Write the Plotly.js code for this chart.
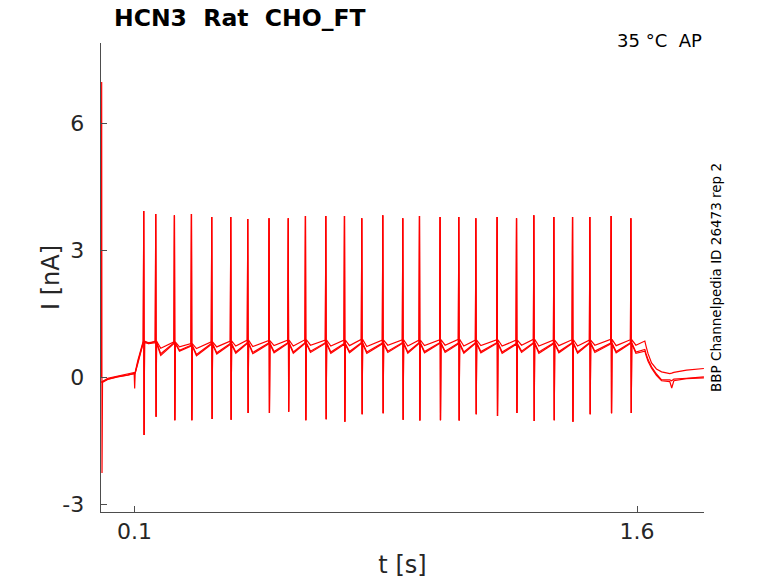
<!DOCTYPE html>
<html>
<head>
<meta charset="utf-8">
<script src="https://cdn.plot.ly/plotly-3.0.1.min.js"></script>
<style>html,body{margin:0;padding:0;background:#fff;}#chart{width:778px;height:583px;}</style>
</head>
<body>
<div id="chart"></div>
<script>
// ---- data ----
const spikeT = [0.1275,0.1633,0.2192,0.2700,0.3305,0.3873,0.4380,0.5016,0.5590,0.6103,0.6710,0.7268,0.7784,0.8411,0.9008,0.9507,1.0122,1.0680,1.1189,1.1824,1.2404,1.2920,1.3518,1.4076,1.4592,1.5228,1.5817];
const spikePeak = [3.93,3.86,3.83,3.86,3.79,3.79,3.74,3.76,3.76,3.81,3.81,3.81,3.76,3.83,3.76,3.81,3.79,3.79,3.76,3.79,3.76,3.83,3.79,3.79,3.79,3.81,3.76];
const spikeTrough = [-1.36,-0.93,-1.01,-1.01,-0.98,-1.00,-0.84,-0.84,-0.81,-1.01,-0.99,-1.05,-0.87,-0.85,-1.00,-1.02,-1.01,-1.02,-0.87,-0.91,-0.84,-1.03,-1.01,-1.05,-0.87,-0.85,-0.84];

// inter-spike minimum and pre-spike level for each repetition
const minA = [0.80,0.69,0.72,0.68,0.72,0.74,0.73,0.75,0.74,0.76,0.74,0.75,0.73,0.76,0.74,0.75,0.76,0.74,0.75,0.74,0.76,0.74,0.75,0.74,0.76,0.75,0.76];
const preA = [0.86,0.84,0.80,0.84,0.86,0.88,0.87,0.88,0.89,0.88,0.88,0.90,0.88,0.89,0.88,0.89,0.90,0.88,0.89,0.88,0.90,0.88,0.89,0.88,0.90,0.89,0.86];
const minB = [0.82,0.56,0.64,0.54,0.58,0.60,0.59,0.61,0.60,0.62,0.60,0.61,0.60,0.62,0.60,0.61,0.62,0.60,0.61,0.60,0.62,0.60,0.61,0.60,0.62,0.61,0.60];
const preB = [0.84,0.82,0.76,0.80,0.80,0.82,0.81,0.82,0.82,0.82,0.80,0.82,0.81,0.82,0.82,0.82,0.81,0.82,0.82,0.80,0.82,0.81,0.82,0.82,0.81,0.82,0.66];
const minC = [0.80,0.52,0.62,0.51,0.55,0.57,0.56,0.58,0.57,0.59,0.57,0.58,0.57,0.59,0.57,0.58,0.59,0.57,0.58,0.57,0.59,0.57,0.58,0.57,0.59,0.58,0.57];
const preC = [0.82,0.80,0.74,0.78,0.78,0.80,0.79,0.80,0.80,0.80,0.78,0.80,0.79,0.80,0.80,0.80,0.79,0.80,0.80,0.78,0.80,0.79,0.80,0.80,0.79,0.80,0.62];

// holding period before the step
const headT = [0.0010,0.0020,0.0030,0.0045,0.0200,0.0500,0.0800,0.0990,0.1005,0.1020,0.1100,0.1200,0.1262];
const headA = [0.00,6.98,-2.26,-0.10,-0.02,0.03,0.07,0.10,0.10,0.12,0.40,0.70,0.86];
const headB = [-0.10,-0.10,-0.10,-0.10,-0.04,0.02,0.06,0.09,-0.26,0.10,0.36,0.66,0.84];
const headC = [-0.12,-0.12,-0.12,-0.12,-0.05,0.01,0.05,0.08,0.08,0.10,0.33,0.62,0.82];

// after the step
const stepEndT = 1.6234;
const tailT = [1.6270,1.6330,1.6434,1.6580,1.6733,1.6980,1.7036,1.7100,1.7480,1.7997];
const tailA = [0.74,0.56,0.34,0.20,0.13,0.09,0.10,0.12,0.17,0.21];
const tailB = [0.56,0.42,0.25,0.08,-0.06,-0.06,-0.08,-0.04,-0.02,0.01];
const tailC = [0.52,0.38,0.22,0.05,-0.08,-0.10,-0.25,-0.08,-0.03,-0.01];

const xTicks = [0.1, 1.6];
const xTickText = ['0.1', '1.6'];
const yTicks = [-3, 0, 3, 6];
const yTickText = ['-3', '0', '3', '6'];

// ---- assemble each repetition from the read values ----
function buildTrace(head, mins, pres, tail) {
  const x = headT.slice(), y = head.slice();
  let level = head[head.length - 1];
  for (let i = 0; i < spikeT.length; i++) {
    const t = spikeT[i];
    const next = i + 1 < spikeT.length ? spikeT[i + 1] : stepEndT + 0.003;
    x.push(t - 0.0012, t, t + 0.0012, t + 0.0025, t + 0.015, next - 0.003);
    y.push(level, spikePeak[i], spikeTrough[i], level, mins[i], pres[i]);
    level = pres[i];
  }
  return { x: x.concat(tailT), y: y.concat(tail) };
}

const reps = [buildTrace(headA, minA, preA, tailA), buildTrace(headB, minB, preB, tailB), buildTrace(headC, minC, preC, tailC)];
const data = reps.map(r => ({
  x: r.x, y: r.y, type: 'scatter', mode: 'lines',
  line: { color: '#ff0000', width: 1.2 }, hoverinfo: 'skip', showlegend: false
}));

const FONT = 'DejaVu Sans, sans-serif';
const layout = {
  width: 778, height: 583,
  margin: { l: 101, r: 74, t: 43, b: 71, pad: 0 },
  paper_bgcolor: '#ffffff', plot_bgcolor: '#ffffff',
  showlegend: false,
  title: {
    text: '<b>HCN3\u00a0\u00a0Rat\u00a0\u00a0CHO_FT</b>',
    font: { family: FONT, size: 23.5, color: '#000000' },
    xref: 'container', x: 114 / 778, xanchor: 'left',
    yref: 'container', y: 1 - 18 / 583, yanchor: 'middle'
  },
  xaxis: {
    range: [0, 1.8], showgrid: false, zeroline: false,
    showline: true, linecolor: '#4d4d4d', linewidth: 1,
    ticks: 'inside', ticklen: 6, tickcolor: '#4d4d4d', tickwidth: 1,
    tickvals: xTicks, ticktext: xTickText,
    tickfont: { family: FONT, size: 22, color: '#262626' },
    title: { text: 't [s]', font: { family: FONT, size: 24, color: '#262626' }, standoff: 12 },
    automargin: false
  },
  yaxis: {
    range: [-3.18, 7.9], showgrid: false, zeroline: false,
    showline: true, linecolor: '#4d4d4d', linewidth: 1,
    ticks: 'inside', ticklen: 6, tickcolor: '#4d4d4d', tickwidth: 1,
    tickvals: yTicks, ticktext: yTickText.map(s => s + '\u00a0\u2009'),
    tickfont: { family: FONT, size: 22, color: '#262626' },
    automargin: false
  },
  annotations: [
    { text: 'I [nA]', xref: 'paper', yref: 'paper', x: (51 - 101) / 603, y: (512 - 278) / 469,
      xanchor: 'center', yanchor: 'middle', textangle: -90, showarrow: false,
      font: { family: FONT, size: 24, color: '#262626' } },
    { text: '35 °C\u00a0\u00a0AP', xref: 'paper', yref: 'paper', x: 1, y: (512 - 41) / 469,
      xanchor: 'right', yanchor: 'middle', showarrow: false,
      font: { family: FONT, size: 18, color: '#000000' } },
    { text: 'BBP Channelpedia ID 26473 rep 2', xref: 'paper', yref: 'paper',
      x: (716 - 101) / 603, y: (512 - 278) / 469, xanchor: 'center', yanchor: 'middle',
      textangle: -90, showarrow: false,
      font: { family: FONT, size: 13.5, color: '#000000' } }
  ]
};

Plotly.newPlot('chart', data, layout, { staticPlot: true, displayModeBar: false });
</script>
</body>
</html>
